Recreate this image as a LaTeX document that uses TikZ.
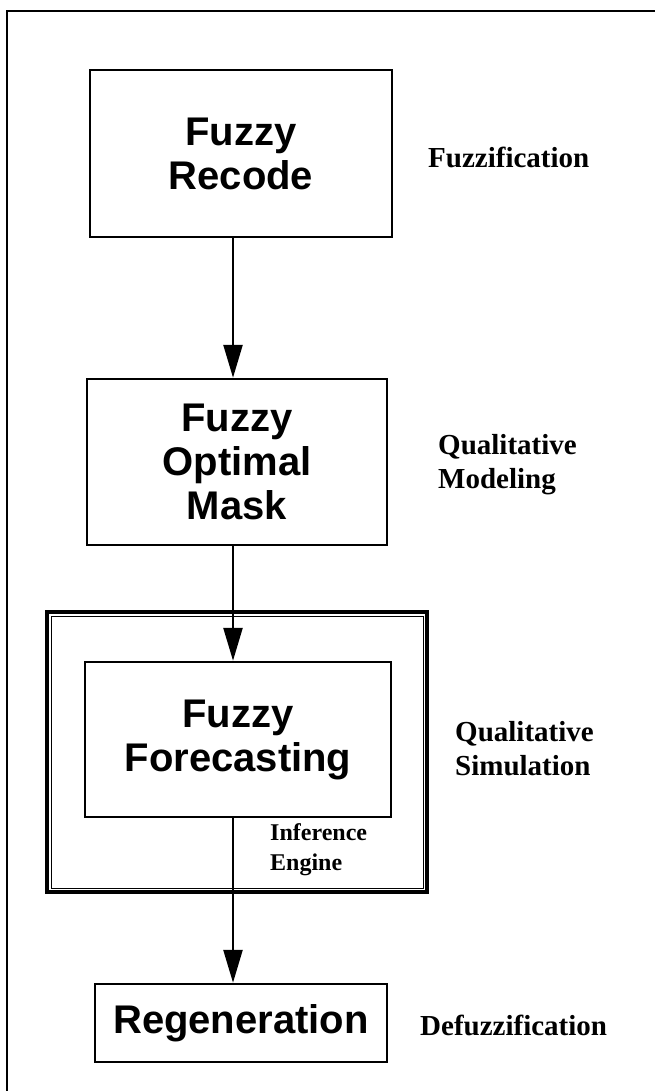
\documentclass[tikz,border=0pt]{standalone}
\usepackage{fontspec}
\setmainfont{Liberation Serif}
\setsansfont{Liberation Sans}
\usetikzlibrary{arrows.meta}

\begin{document}
\begin{tikzpicture}[x=1pt,y=-1pt,
	blk/.style={draw,line width=2.5pt,inner sep=0pt,align=center,
		font=\sffamily\bfseries\fontsize{40}{44}\selectfont},
	lbl/.style={anchor=west,align=left,inner sep=0pt,
		font=\bfseries\fontsize{29}{34}\selectfont},
	flow/.style={line width=2.5pt,-{Triangle[length=33pt,width=19pt]}}]
	\useasboundingbox (0,0) rectangle (655,1091);
	% page frame
	\draw[line width=1.5pt] (7,1091) -- (7,11) -- (655,11);
	% blocks
	\node[blk,minimum width=302pt,minimum height=167pt] (recode) at (241,153.5) {Fuzzy\\Recode};
	\node[blk,minimum width=300pt,minimum height=166pt] (mask) at (237,462) {Fuzzy\\Optimal\\Mask};
	\node[draw,line width=4.5pt,minimum width=380pt,minimum height=280pt] (engine) at (237,752) {};
	\draw[line width=1pt] (51,616) rectangle (423,888);
	\node[blk,minimum width=306pt,minimum height=155pt] (fcast) at (238,739.5) {Fuzzy\\Forecasting};
	\node[blk,minimum width=292pt,minimum height=78pt] (regen) at (241,1023) {Regeneration};
	% labels
	\node[lbl] (fuzz) at (428,157) {Fuzzification};
	\node[lbl] (model) at (438,465) {Qualitative\\Modeling};
	\node[lbl] (simul) at (455,749) {Qualitative\\Simulation};
	\node[lbl,font=\bfseries\fontsize{24}{30}\selectfont] (infer) at (270,850) {Inference\\Engine};
	\node[lbl] (defuzz) at (420,1025) {Defuzzification};
	% arrows
	\coordinate (spine) at (233,0);
	\draw[flow] (recode.south -| spine) -- (mask.north -| spine);
	\draw[flow] (mask.south -| spine) -- (fcast.north -| spine);
	\draw[flow] (fcast.south -| spine) -- (regen.north -| spine);
\end{tikzpicture}
\end{document}
